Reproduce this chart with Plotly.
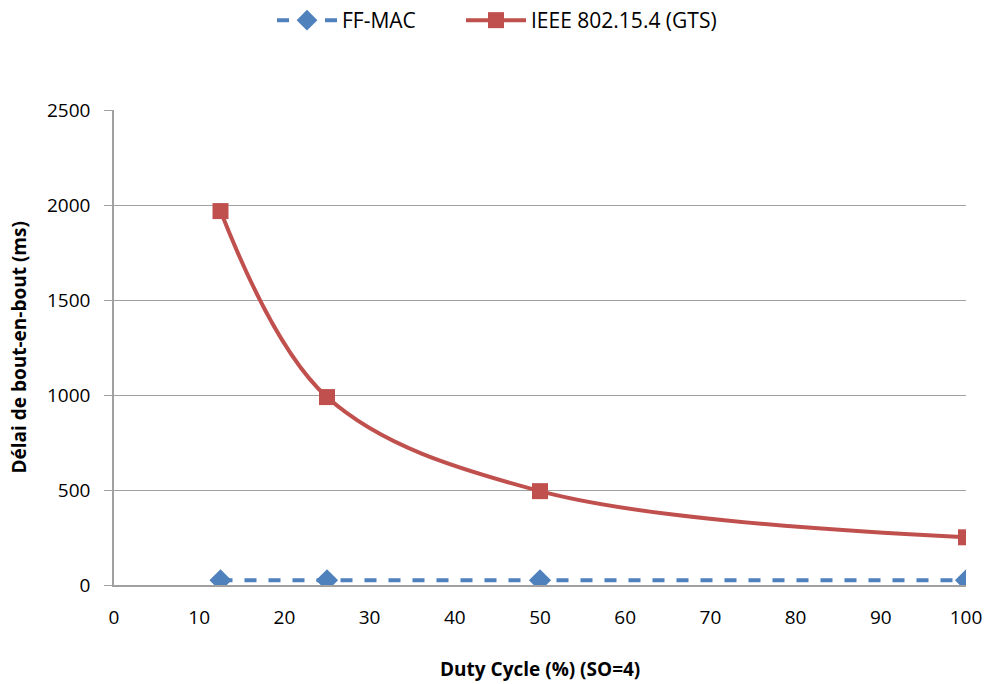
import plotly.graph_objects as go

duty_cycle = [12.5, 25, 50, 100]
ff_mac = [25, 25, 25, 25]
ieee_gts = [1968, 989, 494, 251]

fig = go.Figure()
fig.add_trace(go.Scatter(
    x=duty_cycle, y=ff_mac, name="FF-MAC", mode="lines+markers",
    line=dict(color="#4F81BD", width=4, dash="dash"),
    marker=dict(symbol="diamond", size=17, color="#4F81BD"),
    legend="legend",
))
fig.add_trace(go.Scatter(
    x=duty_cycle, y=ieee_gts, name="IEEE 802.15.4 (GTS)", mode="lines+markers",
    line=dict(color="#C0504D", width=4, shape="spline", smoothing=1.0),
    marker=dict(symbol="square", size=16, color="#C0504D"),
    legend="legend2",
))

font_family = "Open Sans, Liberation Sans, sans-serif"
legend_common = dict(orientation="h", xanchor="left", y=1.0, yanchor="top",
                     yref="container", font=dict(size=21), itemwidth=60,
                     bgcolor="rgba(0,0,0,0)")
fig.update_layout(
    width=986, height=684,
    margin=dict(l=114, r=20, t=110, b=99, autoexpand=False),
    paper_bgcolor="white", plot_bgcolor="white",
    font=dict(family=font_family, size=19, color="black"),
    legend=dict(x=(272 - 114) / 852, **legend_common),
    legend2=dict(x=(461 - 114) / 852, **legend_common),
    showlegend=True,
    annotations=[
        dict(text="<b>Duty Cycle (%) (SO=4)</b>", xref="paper", yref="paper",
             x=0.5, y=-84 / 475, xanchor="center", yanchor="middle",
             showarrow=False, font=dict(size=19)),
        dict(text="<b>Délai de bout-en-bout (ms)</b>", xref="paper", yref="paper",
             x=-96 / 852, y=0.5, xanchor="center", yanchor="middle", textangle=-90,
             showarrow=False, font=dict(size=19)),
    ],
)
fig.update_xaxes(
    range=[0, 100], dtick=10, tick0=0, automargin=False,
    showgrid=False, showline=True, linecolor="#A0A0A0", linewidth=1.5,
    ticks="", zeroline=False, ticklabelstandoff=14,
)
fig.update_yaxes(
    range=[0, 2500], dtick=500, tick0=0, automargin=False,
    showgrid=True, gridcolor="#A0A0A0", gridwidth=1,
    showline=True, linecolor="#A0A0A0", linewidth=1.5,
    ticks="outside", ticklen=8, tickcolor="#A0A0A0",
    zeroline=False, ticklabelstandoff=10,
)
fig.write_html("out.html", config={"displayModeBar": False},
               post_script="document.body.style.margin='0';")
